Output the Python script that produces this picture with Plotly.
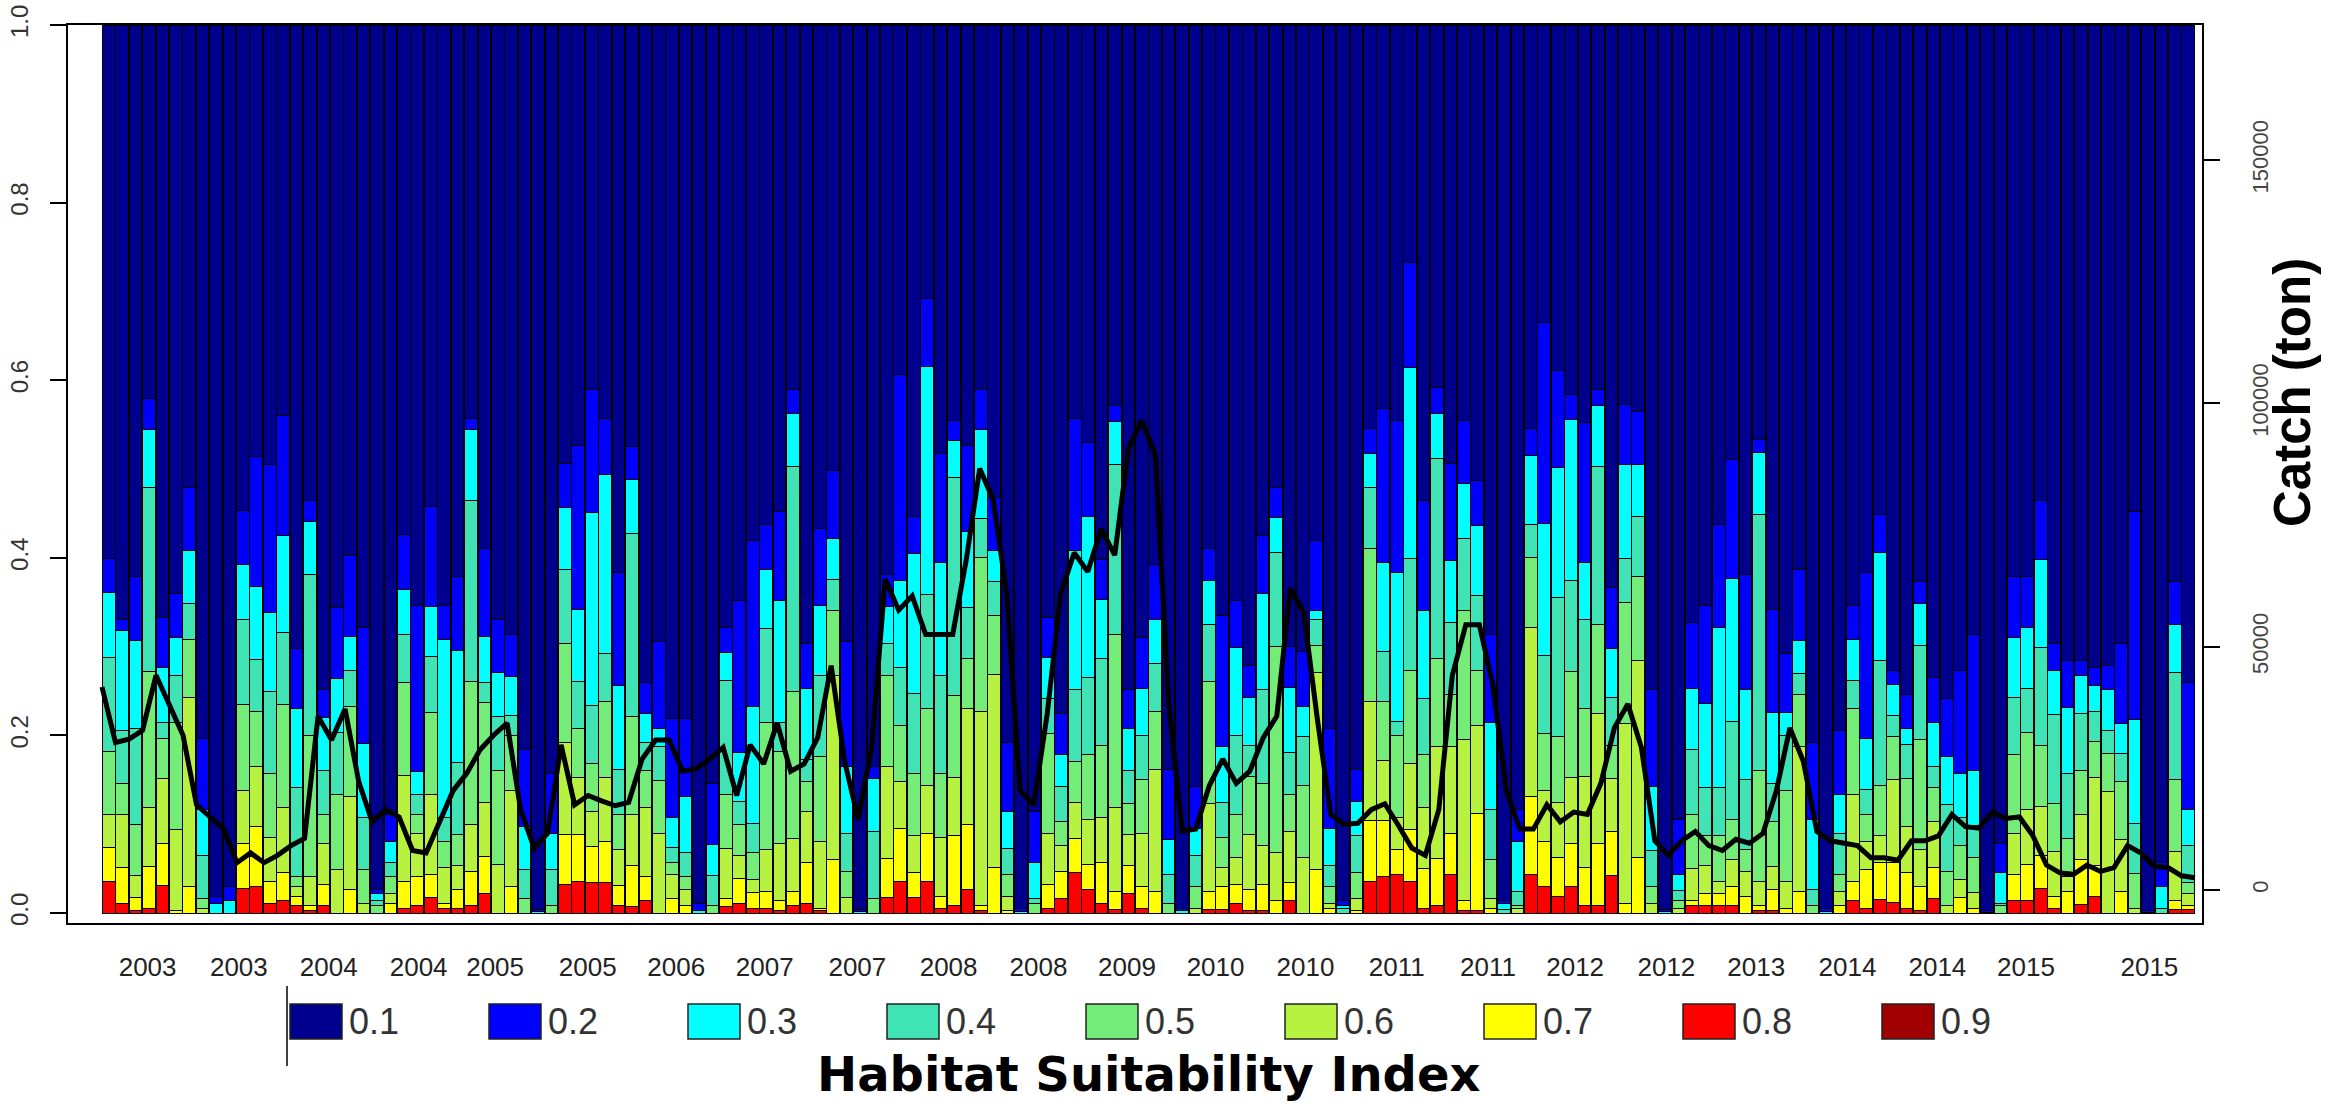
import numpy as np
import plotly.graph_objects as go

# ---------------- data ----------------
# HSI classes and colours
classes = ["0.1", "0.2", "0.3", "0.4", "0.5", "0.6", "0.7", "0.8", "0.9"]
class_colors = ["#00008F", "#0000FF", "#00FFFF", "#3FE3B4", "#74EC78",
                "#B6F23F", "#FFFF00", "#FF0000", "#A00000"]

# cumulative tops (proportion of area with HSI >= class), one value per month 2003-01 .. 2015-12
top_08 = [.036,.011,.003,.005,.031,0,0,0,0,0,.028,.030,.011,.014,.008,.003,.008,0,0,0,0,0,.005,.009,.018,
          .005,.005,.008,.022,0,0,0,0,0,.032,.035,.034,.034,.008,.007,.014,0,0,0,0,0,.007,.011,.005,.005,.003,
          .008,.011,.003,0,0,0,0,.018,.035,.018,.036,.005,.008,.027,.003,0,0,0,0,.005,.016,.046,.027,.011,.004,.022,.005,
          0,0,0,0,.004,.004,.011,.003,.003,0,.014,0,0,0,0,0,.036,.041,.043,.035,.005,.008,.043,.003,.003,0,
          0,0,.043,.030,.019,.030,.008,.008,.042,0,0,0,0,0,.008,.008,.008,.008,0,.003,.003,0,0,0,0,0,
          .014,.005,.015,.012,.005,.003,.016,0,0,0,0,0,.014,.014,.028,.005,0,.010,.019,0,0,0,0,0,.004,.004]
top_07 = [.074,.051,.018,.052,.078,.003,.030,0,0,0,.078,.097,.035,.046,.019,.008,.032,0,.027,0,0,.011,.036,.041,.043,
          .011,.027,.047,.064,0,.030,0,0,0,.088,.088,.075,.080,.031,.054,.041,0,.016,.008,0,0,.016,.039,.023,.024,.014,
          .024,.057,.005,.060,0,0,0,.061,.095,.046,.089,.019,.087,.100,.008,.051,.003,0,0,.032,.047,.084,.055,.057,.024,.054,.030,
          .024,0,0,0,.024,.030,.032,.027,.032,.014,.034,0,.049,.005,0,.003,.104,.104,.071,.094,.050,.061,.089,.014,.112,.005,
          0,0,.131,.081,.062,.078,.051,.078,.092,.011,.062,0,0,0,.014,.022,.022,.030,.019,.009,.027,.005,.024,0,0,.008,
          .035,.049,.057,.057,.046,.030,.051,0,.018,.005,0,0,.043,.055,.065,.019,.024,.060,.054,0,.024,0,0,0,.014,.008]
top_06 = [.111,.111,.042,.119,.151,.094,.243,.005,0,0,.138,.165,.085,.119,.030,.041,.078,.049,.131,.011,0,.022,.155,.089,.134,
          .051,.054,.100,.124,.055,.138,0,0,0,.192,.153,.114,.153,.071,.111,.119,.089,.043,.027,0,0,.073,.065,.038,.072,.078,
          .084,.114,.081,.268,.018,0,0,.165,.148,.087,.144,.085,.153,.230,.227,.269,.019,0,0,.090,.076,.124,.105,.107,.119,.088,.090,
          .162,0,0,.005,.123,.051,.063,.088,.076,.068,.092,.063,.271,.011,0,.016,.238,.172,.108,.168,.119,.187,.187,.195,.211,.016,
          0,.005,.322,.138,.124,.153,.154,.225,.151,.213,.284,.011,0,.005,.050,.054,.036,.060,.047,.035,.052,.035,.187,0,0,.024,
          .133,.080,.087,.150,.097,.072,.103,.008,.038,.023,0,0,.089,.116,.120,.069,.041,.111,.153,.137,.083,.005,0,0,.069,.022]
top_05 = [.182,.146,.100,.272,.196,.214,.308,.016,0,0,.235,.227,.157,.235,.041,.200,.111,.134,.233,.049,.008,.041,.260,.111,.226,
          .081,.088,.261,.237,.160,.200,.016,0,.008,.304,.208,.168,.238,.111,.221,.160,.149,.057,.041,0,.009,.133,.100,.068,.214,.182,
          .249,.148,.176,.341,.047,0,.016,.267,.211,.157,.230,.157,.245,.287,.400,.335,.043,0,.011,.202,.103,.171,.179,.189,.314,.123,.150,
          .227,.011,0,.030,.261,.085,.111,.154,.146,.300,.134,.144,.301,.030,0,.046,.411,.238,.200,.273,.179,.287,.246,.341,.273,.060,
          0,.009,.400,.202,.199,.272,.230,.325,.189,.350,.379,.030,0,.014,.111,.087,.087,.105,.072,.161,.103,.138,.246,.009,0,.043,
          .230,.111,.144,.199,.151,.195,.141,.047,.076,.063,0,.009,.179,.203,.189,.123,.084,.160,.193,.180,.148,.045,0,0,.150,.034]
top_04 = [.288,.206,.208,.479,.214,.268,.349,.065,0,0,.330,.285,.249,.316,.141,.381,.160,.203,.273,.108,.014,.057,.314,.133,.289,
          .108,.170,.464,.260,.221,.222,.049,0,.049,.387,.261,.234,.292,.162,.427,.192,.187,.074,.068,0,.042,.262,.126,.101,.320,.215,
          .503,.173,.268,.376,.089,0,.092,.303,.276,.247,.359,.268,.490,.344,.444,.373,.073,0,.016,.241,.143,.252,.265,.287,.505,.160,.200,
          .281,.043,0,.065,.325,.124,.200,.189,.252,.406,.181,.199,.330,.054,.005,.087,.479,.295,.216,.399,.241,.512,.327,.422,.357,.116,
          .004,.024,.438,.290,.355,.375,.330,.503,.243,.399,.446,.070,0,.025,.184,.141,.141,.216,.150,.449,.146,.200,.270,.027,0,.089,
          .262,.139,.284,.222,.190,.301,.165,.122,.108,.099,0,.011,.243,.253,.299,.223,.157,.225,.227,.206,.180,.101,0,.005,.271,.076]
top_03 = [.361,.318,.307,.545,.277,.310,.408,.116,.011,.014,.393,.368,.338,.425,.230,.441,.220,.264,.311,.191,.022,.080,.364,.159,.345,
          .308,.296,.544,.311,.271,.266,.097,.002,.089,.457,.342,.451,.494,.256,.488,.225,.208,.108,.131,.003,.077,.293,.181,.233,.387,.352,
          .563,.253,.346,.422,.165,.002,.151,.345,.375,.405,.615,.395,.532,.430,.544,.408,.114,.002,.057,.288,.179,.408,.446,.353,.553,.208,.253,
          .330,.083,.003,.095,.374,.187,.299,.243,.360,.445,.254,.233,.341,.095,.009,.126,.518,.395,.384,.614,.341,.563,.397,.484,.436,.214,
          .011,.080,.515,.439,.502,.556,.395,.571,.298,.505,.505,.143,.002,.043,.253,.236,.322,.377,.252,.519,.226,.226,.307,.105,.002,.133,
          .308,.197,.406,.257,.208,.349,.215,.176,.157,.160,.001,.046,.310,.322,.398,.273,.231,.268,.256,.252,.213,.218,.001,.030,.325,.117]
top_02 = [.399,.330,.379,.579,.333,.360,.479,.197,.019,.030,.453,.514,.505,.560,.298,.464,.252,.344,.403,.322,.027,.111,.426,.346,.458,
          .346,.379,.557,.411,.330,.314,.184,.004,.157,.506,.527,.590,.557,.384,.525,.260,.306,.219,.219,.011,.146,.322,.352,.419,.438,.452,
          .590,.303,.433,.498,.306,.004,.165,.381,.606,.446,.692,.517,.555,.527,.590,.468,.192,.005,.114,.333,.225,.557,.530,.398,.571,.252,.310,
          .392,.162,.005,.143,.411,.335,.352,.279,.425,.479,.300,.295,.419,.208,.014,.162,.546,.568,.555,.733,.465,.592,.506,.555,.487,.314,
          .014,.116,.546,.665,.611,.584,.552,.590,.366,.573,.565,.252,.004,.105,.327,.346,.438,.511,.381,.533,.342,.292,.387,.192,.005,.206,
          .346,.384,.449,.273,.246,.373,.265,.241,.273,.314,.003,.078,.379,.379,.465,.303,.284,.284,.276,.279,.303,.452,.003,.057,.373,.260]

# monthly catch (ton)
catch = [41700,30300,31000,32800,44100,38200,31800,17500,15000,12500,5600,7600,5600,7100,9100,10600,35700,30800,37200,22400,14000,16500,15000,8100,7600,
         14000,20400,23900,28800,31800,34300,16500,8600,11600,29800,17500,19400,18300,17300,18000,26900,30800,30800,24400,24900,26900,29300,19400,29800,25900,34300,
         24400,25900,31300,46100,26400,14500,29300,63900,57500,60400,52500,52500,52500,67800,86600,80200,60900,20400,17500,36200,60900,69300,65400,74200,68800,90500,96500,
         89500,38200,12100,12500,21400,26900,21900,24400,31300,35700,62000,57000,35200,15500,13500,13700,16500,17700,13300,8600,7100,16500,44100,54500,54500,42200,
         20400,12500,12500,17500,14000,16000,15500,21900,33300,38200,29300,10100,7100,10100,12000,9100,8100,10400,9600,11600,20400,33300,26400,12000,10100,9600,
         9100,6600,6600,6100,10100,10100,11100,15500,13000,12700,16000,14700,15000,11100,5100,3500,3200,5100,3800,4600,9100,7600,4800,4600,2900,2500]

# x tick labels (bar-index positions) as printed under the bars
tick_pos = [2.9, 9.7, 16.4, 23.1, 28.8, 35.7, 42.3, 48.9, 55.8, 62.6, 69.3, 75.9,
            82.5, 89.2, 96.0, 102.8, 109.3, 116.1, 122.8, 129.6, 136.3, 142.9, 152.1]
tick_text = ["2003", "2003", "2004", "2004", "2005", "2005", "2006", "2007", "2007", "2008", "2008", "2009",
             "2010", "2010", "2011", "2011", "2012", "2012", "2013", "2014", "2014", "2015", "2015"]

left_ticks = [0.0, 0.2, 0.4, 0.6, 0.8, 1.0]
right_ticks = [0, 50000, 100000, 150000]

# ---------------- geometry ----------------
W, H = 2325, 1107
PL, PR, PT, PB = 68, 2202, 25, 923      # plot frame (px)
BAR_L, BAR_R = 102, 2195                # first bar left / last bar right (px)
Y0_PX = 913                             # pixel row of value 0 on the left axis
C_OFF, C_SCALE = 0.026, 182500          # catch axis: c = (v - C_OFF) * C_SCALE

n = len(catch)
idx = np.arange(n)
pitch = (BAR_R - BAR_L) / n
x_range = [-0.5 - (BAR_L - PL) / pitch, n - 0.5 + (PR - BAR_R) / pitch]
v_per_px = 1.0 / (Y0_PX - PT)
y_range = [-(PB - Y0_PX) * v_per_px, 1.0]
y2_range = [(y_range[0] - C_OFF) * C_SCALE, (y_range[1] - C_OFF) * C_SCALE]


def xp(px):
    return (px - PL) / (PR - PL)


def yp(py):
    return (PB - py) / (PB - PT)


# ---------------- traces ----------------
tops = [np.zeros(n), np.array(top_08), np.array(top_07), np.array(top_06), np.array(top_05),
        np.array(top_04), np.array(top_03), np.array(top_02), np.ones(n)]
stack_classes = ["0.8", "0.7", "0.6", "0.5", "0.4", "0.3", "0.2", "0.1"]

fig = go.Figure()
for k, cls in enumerate(stack_classes):
    seg = np.clip(tops[k + 1] - tops[k], 0, None)
    col = class_colors[classes.index(cls)]
    fig.add_trace(go.Bar(
        x=idx, y=seg, name=cls, showlegend=False,
        marker=dict(color=col, line=dict(color="black", width=1)),
        hovertemplate="HSI " + cls + ": %{y:.3f}<extra></extra>",
    ))

line_x = np.linspace(-0.5, n - 0.5, n)
fig.add_trace(go.Scatter(
    x=line_x, y=catch, yaxis="y2", mode="lines", showlegend=False,
    line=dict(color="black", width=5), name="Catch",
))

# ---------------- layout ----------------
ARIAL = "Liberation Sans, Arial, sans-serif"

fig.update_layout(
    width=W, height=H, autosize=False,
    margin=dict(l=PL, r=W - PR, t=PT, b=H - PB, pad=0, autoexpand=False),
    paper_bgcolor="white", plot_bgcolor="white",
    barmode="stack", bargap=0.06,
    xaxis=dict(range=x_range, showgrid=False, zeroline=False, automargin=False,
               showline=True, linecolor="black", linewidth=2, mirror=True,
               tickmode="array", tickvals=tick_pos, ticktext=tick_text, ticks="",
               tickfont=dict(family=ARIAL, size=26, color="#222222"),
               ticklabelstandoff=20),
    yaxis=dict(range=y_range, showgrid=False, zeroline=False, automargin=False,
               showline=True, linecolor="black", linewidth=2, mirror=True,
               tickmode="array", tickvals=left_ticks,
               ticktext=["%.1f" % t for t in left_ticks],
               ticks="outside", ticklen=16, tickwidth=2, tickcolor="black",
               tickangle=-90, tickfont=dict(family=ARIAL, size=24, color="#333333"),
               ticklabelstandoff=12),
    yaxis2=dict(range=y2_range, overlaying="y", side="right", showgrid=False, zeroline=False,
                automargin=False, showline=False, tickmode="array", tickvals=right_ticks,
                ticktext=[str(t) for t in right_ticks],
                ticks="outside", ticklen=17, tickwidth=2, tickcolor="black",
                tickangle=-90, tickfont=dict(family=ARIAL, size=22, color="#444444"),
                ticklabelstandoff=22),
)

shapes = []
annotations = []
# custom legend row
SW_LEFT, SW_STEP, SW_W, SW_TOP, SW_BOT = 290, 199, 52, 1004, 1039
shapes.append(dict(type="line", xref="paper", yref="paper",
                   x0=xp(SW_LEFT - 3), x1=xp(SW_LEFT - 3), y0=yp(986), y1=yp(1066),
                   line=dict(color="black", width=1.5)))
for k, cls in enumerate(classes):
    x0 = SW_LEFT + k * SW_STEP
    shapes.append(dict(type="rect", xref="paper", yref="paper",
                       x0=xp(x0), x1=xp(x0 + SW_W), y0=yp(SW_BOT), y1=yp(SW_TOP),
                       fillcolor=class_colors[k], line=dict(color="#222222", width=1.5)))
    annotations.append(dict(xref="paper", yref="paper", x=xp(x0 + SW_W / 2 + 58), y=yp((SW_TOP + SW_BOT) / 2),
                            text=cls, showarrow=False, xanchor="center", yanchor="middle",
                            font=dict(family=ARIAL, size=36, color="#333333")))

annotations.append(dict(xref="paper", yref="paper", x=xp(1149), y=yp(1074),
                        text="<b>Habitat Suitability Index</b>", showarrow=False,
                        xanchor="center", yanchor="middle",
                        font=dict(family="DejaVu Sans, sans-serif", size=48, color="black")))
annotations.append(dict(xref="paper", yref="paper", x=xp(2292), y=yp(393),
                        text="<b>Catch (ton)</b>", showarrow=False, textangle=-90,
                        xanchor="center", yanchor="middle",
                        font=dict(family=ARIAL, size=51, color="black")))

fig.update_layout(shapes=shapes, annotations=annotations)

fig.write_html("out.html")
